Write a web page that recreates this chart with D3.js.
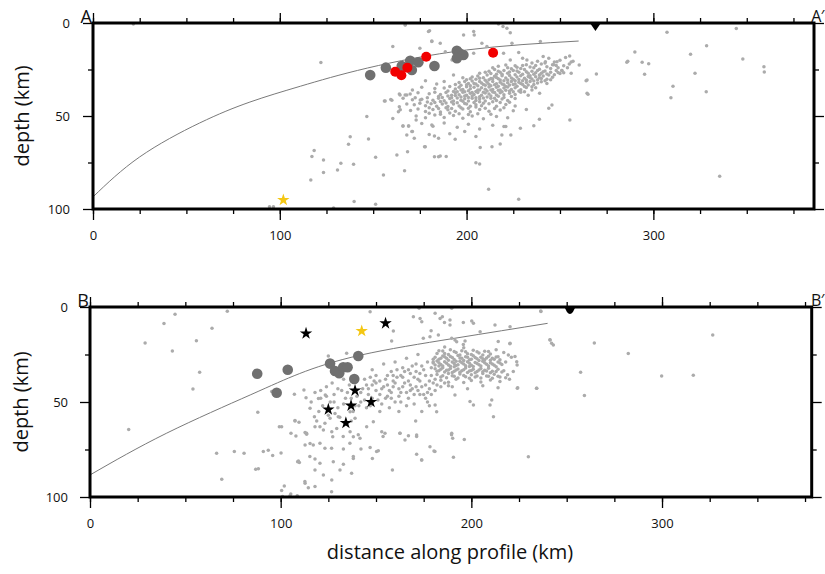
<!DOCTYPE html>
<html>
<head>
<meta charset="utf-8">
<script src="https://cdn.jsdelivr.net/npm/d3@7"></script>
<style>
body { margin: 0; background: #fff; }
text { font-family: "Open Sans", sans-serif; fill: #111; }
</style>
</head>
<body>
<div id="chart"></div>
<script>
// ticks
var xTicks = [0, 100, 200, 300];
var yTicks = [0, 50, 100];

// ---------- profile A-A' ----------
var slabA = [[0,93.5],[25,72],[57,53.8],[84,42.5],[111,34],[147,24.2],[200,14.5],[260,9.7]];
var stationA = [269];
var starA = [[101.9,95.2]];
var bigA = [[148.4,28],[156.8,24],[165.3,23.1],[169.8,20.3],[170.7,25.3],[174.2,21.1],[182.8,23.1],
  [194.8,14.9],[196.2,16.3],[198.3,17.2],[194.8,18.9]];
var redA = [[161.8,26.2],[165.1,28.1],[168.3,24],[178.4,18.1],[214.2,16]];
var quakesA = [
  [230,19],[238,20.5],[244,19],[250,20],[253,18.5],[247,21],[241,18],[235,21.5],
  [226,23],[232,22.5],[236,24],[240,22],[243,23.5],[246,22.5],[249,24],[252,23],[229,24.5],[222,24],[255,22],
  [212,26],[215,25],[218,26.5],[220,25.5],[222,27],[225,25.5],[228,26.5],[231,25],[233,27],[235,26],[238,25.5],[240,27],[242,25.8],[245,26.5],[248,25.5],[250,27.2],[216,27.5],[226,27.8],[236,27.6],[244,28],
  [203,29],[206,28.5],[209,29.5],[211,28],[213,29.8],[215,28.6],[217,30],[219,28.4],[221,29.6],[223,28.2],[225,30.2],[227,29],[229,28.3],[231,29.7],[233,28.8],[235,30.1],[237,28.9],[239,29.5],[241,28.5],[243,30.3],[246,29.2],[210,30.8],[220,31],[230,31],[198,29.5],[193,28],
  [196,32],[199,31.5],[201,32.5],[203,31.2],[205,32.8],[207,31.5],[209,33],[211,31.8],[212,32.9],[214,31.4],[216,32.6],[218,31.9],[220,33.2],[222,32.1],[224,31.4],[226,32.8],[228,31.8],[230,33],[232,32],[234,31.5],[236,33.1],[238,32.3],[240,31.6],[243,32.5],[188,31.5],[184,32.8],[178,31],
  [188,35],[191,34.2],[194,35.5],[196,34.6],[198,35.8],[200,34.3],[202,35.4],[204,34.5],[206,36],[208,34.8],[210,35.6],[212,34.4],[214,35.8],[216,34.6],[218,36],[220,35],[222,34.4],[224,35.7],[226,34.8],[229,35.9],[232,34.7],[235,36],[183,35.2],[176,34.5],[171,36],
  [180,38],[183,37.2],[186,38.5],[189,37.4],[192,38.8],[194,37.5],[196,38.6],[198,37.2],[200,38.9],[202,37.8],[204,38.4],[206,37.3],[208,38.9],[210,37.6],[212,38.2],[214,37.1],[216,38.7],[218,37.5],[220,38.6],[223,37.8],[226,38.5],[229,37.2],[233,38.8],[174,37.5],[168,38.7],[164,38.2],
  [176,41],[179,40.2],[182,41.5],[185,40.4],[188,41.8],[191,40.6],[193,41.9],[195,40.3],[197,41.5],[199,40.7],[201,42],[203,40.4],[205,41.6],[207,40.8],[210,41.9],[213,40.5],[216,41.7],[219,40.9],[222,41.6],[226,40.6],[171,41.2],[166,40.5],[160,41.5],[156,42],
  [172,44],[175,43.2],[178,44.5],[181,43.4],[184,44.8],[187,43.6],[190,44.9],[193,43.5],[196,44.6],[199,43.3],[202,44.7],[205,43.9],[208,44.5],[212,43.4],[216,44.8],[221,43.8],[226,44.6],[168,43.5],[164,45],
  [170,47],[174,46.3],[178,47.6],[182,46.5],[186,47.8],[190,46.6],[194,47.4],[198,46.2],[202,47.7],[207,46.5],[212,47.5],[218,46.8],[225,47.2],[232,46.5],[244,45.8],
  [173,50],[178,51],[183,49.5],[188,50.8],[193,49.7],[198,51.2],[203,50],[209,51.5],[216,50.3],[222,51],[239,51.8],[160.5,51.3],[164.5,46.7],[146.6,50.3],
  [176,54],[182,55.5],[188,53.8],[195,56],[201,54.5],[207,57],[214,55],[221,55.7],[236,55.3],[166,55.4],[169,55.4],[173,52.2],
  [180,60],[185,62],[191,59.5],[199,58.4],[205,61],[218.9,60.2],[223.7,60.2],[168,60.2],[171,58.4],[172,62],[182.8,60.8],
  // second pass over the dense core
  [214,24],[217,23.2],[221,22.6],[224,24.6],[227,23.8],[230,22.8],[234,23.6],[237,22.8],[239,24.8],[242,21.5],[245,24.5],[248,22.8],[251,25.5],[254,24],
  [207,27],[210,26.5],[213,27.2],[217,26],[219,27.5],[223,26.3],[227,25.8],[230,27.5],[232,26.2],[234,28.4],[237,26.8],[239,28],[241,26.2],[243,27.4],[247,27.8],[249,26.6],[252,26.8],
  [200,30.5],[202,30],[205,30.3],[207,29.7],[212,30.5],[214,30],[216,29.3],[218,30.6],[222,30.6],[224,29.6],[226,31],[228,30.4],[232,30.6],[234,29.5],[236,31.2],[238,30.5],[240,29.9],[242,31],[245,30.5],
  [194,33],[197,33.5],[200,33.2],[202,33.8],[204,32.5],[206,33.8],[208,32.3],[210,33.5],[213,33.8],[215,33.2],[217,34],[219,32.8],[221,34.2],[223,33.4],[225,33.1],[227,34],[229,32.5],[231,34.2],[233,33.4],[235,34.3],[237,34.8],
  [190,36.5],[193,36.8],[195,37],[197,36],[199,36.9],[201,36.4],[203,37.3],[205,36.8],[207,36],[209,37.2],[211,36.6],[213,36],[215,37.3],[217,36.2],[219,37],[221,36.2],[223,36.5],[225,37],[228,36.5],[231,37],
  [185,39.5],[187,40],[190,39.3],[192,40.2],[194,39],[197,39.8],[199,39.3],[201,40],[203,39.2],[205,40.2],[207,39.6],[209,40.3],[211,39.8],[213,39.3],[215,40.4],[217,39.4],[220,40],[224,39.5],
  [179,42.5],[183,42.8],[186,42.2],[189,43],[192,42.5],[195,42.9],[198,42.1],[200,43.5],[204,42.7],[207,42.3],[209,43.2],[214,42.4],[218,42.8],[223,42.6],
  [180,45.5],[185,46],[189,45.6],[192,46],[197,45.5],[201,45.8],[205,45.2],[210,45.9],[215,46],[220,45.6],
  [180,48.5],[186,49],[191,48.4],[196,48.8],[201,49.2],[206,48.8],[213,49],
  // scattered events
  [21.6,0.5],[167.2,1],[179.6,4.6],[198.4,6.4],[203.8,4.6],[204.1,6.4],[217.1,0.5],[219.5,1.9],[221.6,2.8],[223.4,5.2],
  [208.2,10.9],[185.9,10.9],[181.4,10],[160.5,12.7],[188.6,15.4],[192.2,19.9],[203.8,16.3],[210.9,12.7],[219.8,16.3],
  [224.3,10.9],[227.9,15.9],[122,21.3],[239.5,10],[223.4,19.9],[232.3,19.9],[242.2,20.8],[248.4,20.8],[246.6,22.5],
  [255.2,17.7],[256,21],[257,20.6],[260.3,22.6],[264.5,30.6],[269.5,27.4],[255.3,52.2],[265,38.3],[251,25.6],[256,27],
  [264,31],[167.1,1.1],[180.2,4.1],[181.4,9.7],[175,13.6],[178.7,17.8],
  [307.3,5],[344.4,2.9],[328.5,12.2],[319.9,16.8],[290.1,15.6],[285.8,21.1],[286.3,20.6],[294,21.1],[297.5,21.9],
  [295.3,27.6],[322.3,27],[347.9,19.4],[359.2,23.5],[359.4,26.3],[310.5,34],[309.4,40.2],[328.3,36.9],[335.5,82.4],
  [137.7,61.1],[136.8,65.2],[132.7,75.4],[139.5,76],[117.2,71.8],[118.4,68.6],[123.4,73.6],[123.4,80.4],[116.6,84.4],
  [130.9,79],[139.8,96],[151.3,97.5],[128.8,99.5],[151.3,72.2],[147.5,62.3],[155.5,81.7],[162.7,71],[166.8,79.4],
  [168.4,69.2],[177.9,66.5],[185.9,71.5],[189.1,71.8],[193.9,62.5],[205,75.1],[207,75.8],[207.3,67],[213.6,66.5],
  [218,65],[211.8,89.4],[227.9,94.8],[228.8,56.6],[220,55.7],[245.7,44.1],[239.1,37.8],[264.5,37.8],[94.5,98.8],[96.6,98.8],
  [156.4,42],[159.4,41.1],[164.4,38.7],[167.1,38.7],[169.8,38.2],[172.5,40.2],[175.2,41.4],[163.5,47.7],[165.9,55.4],
  [168.9,55.4],[170.7,58.4],[177.5,66.5],[181.4,54.9],[182.8,71.9],[185,71.9]
];

// ---------- profile B-B' ----------
var slabB = [[0,88.4],[40,66.5],[84,46.3],[110,35],[142,25.3],[191,16.5],[240,8.6]];
var stationB = [251.7];
var starB = [[142.5,12.6]];
var blackStarsB = [[113.3,13.9],[155,8.6],[139,44],[147.4,50],[136.9,51.9],[125,53.9],[134.2,61]];
var bigB = [[87.7,35.1],[103.7,33],[97.9,45.1],[125.9,29.8],[128.5,33.7],[130.7,34.9],[132.8,31.7],[135.1,31.7],
  [138.6,37.9],[140.7,25.8]];
var quakesB = [
  [118,45],[121,48],[124,42],[126,50],[128,46],[130,53],[132,44],[134,48],[136,41],[138,55],[140,47],[142,50],[120,55],
  [125,57],[131,58],[137,60],[143,43],[145,53],[122,52],[127,40],[133,38],[139,52],[116,50],
  [144,38],[146,46],[148,41],[150,36],[151,49],[153,43],[155,38],[156,47],[158,34],[159,42],[160,50],[161,37],[163,45],
  [164,32],[165,40],[167,48],[168,35],[169,43],[171,30],[172,38],[173,46],[175,33],[176,41],[177,50],[179,36],[180,29],
  [181,44],[147,52],[152,55],[157,53],[162,55],[166,52],[170,51],[174,55],[178,52],[148,33],[154,30],[160,29],[166,27],
  [172,25],[150,44],[155,48],[159,39],[163,36],[167,39],[170,46],[174,42],[178,39],[145,41],[149,39],[157,44],[162,47],
  [168,44],[173,35],[177,45],[180,40],[152,39],[158,48],[164,42],[171,34],
  [142,45],[146,43],[148,48],[150,40],[152,46],[154,42],[156,36],[158,45],[160,40],[161,33],[162,43],[164,37],[166,45],
  [167,33],[168,41],[170,37],[171,42],[173,39],[174,31],[175,46],[176,36],[177,29],[178,43],[179,32],[181,38],[182,41],
  [184,42],[186,40],[188,41.5],[141,52],[144,49],[147,37],[153,51],[156,41],[159,36],[163,50],[165,34],[169,31],[172,44],
  [176,48],[179,46],[135,45],[130,43],[128,50],[124,47],[121,44],[133,51],[137,48],
  [183,23],[186,24.5],[189,22.5],[192,24],[195,23],[198,24.6],[201,22.8],[204,24.2],[207,23.3],[210,24.8],[186,21],[196,21.5],
  [181,26.5],[183,27.5],[185,25.8],[187,27],[189,26],[191,27.6],[193,25.5],[195,27],[197,26.2],[199,27.8],[201,25.7],
  [203,27.2],[205,26.4],[207,27.7],[209,25.9],[211,27],[213,26.3],[215,27.8],
  [180,29.5],[182,28.4],[184,30.2],[186,28.8],[188,30.5],[190,29],[192,30.8],[194,28.5],[196,30],[198,28.8],[200,30.6],
  [202,29.2],[204,30.4],[206,28.6],[208,30.1],[210,29.3],[212,30.7],[214,28.9],[216,30.2],[183,31],[191,31.5],[199,31.3],
  [181,32.5],[183,33.6],[185,32],[187,33.3],[189,32.4],[191,33.8],[193,32.6],[195,33.5],[197,32.1],[199,33.7],[201,32.7],
  [203,33.9],[205,32.4],[207,33.3],[209,32.2],[211,33.8],[214,32.8],[217,33.5],
  [182,35.5],[185,36.2],[188,35],[191,36.5],[194,35.2],[197,36.7],[200,35.6],[203,36.3],[206,35],[209,36.5],[212,35.4],
  [215,36.8],[219,35.7],
  [184,38.5],[188,39.6],[192,38],[196,39.8],[200,38.7],[205,39.5],[210,38.4],[215,39.2],[220,38],
  [190,42],[198,43],[206,41.5],[214,42.5],[222,34],[224,30.5],[218,29],[221,26.5],[217,24],[213,22.5],
  // second pass over the dense core
  [182,24.5],[185,23.2],[188,25],[191,23.4],[194,25.2],[197,23.5],[200,25],[203,23.6],[206,25.2],[209,23.4],
  [180,27.5],[184,27],[186,26.2],[188,28],[190,26.6],[192,28.5],[194,26.8],[196,28.2],[198,26.4],[200,27.5],[202,26.6],
  [204,28.2],[206,27.2],[208,26.8],[210,28],[212,27.5],[214,26.2],
  [181,30.5],[183,29.3],[185,31],[187,29.6],[189,31.2],[191,29.8],[193,30.4],[195,29.3],[197,30.9],[199,29.6],[201,31.3],
  [203,29.8],[205,31],[207,29.4],[209,31],[211,30],[213,31.5],[215,29.5],
  [182,33.8],[184,32.8],[186,34.2],[188,33.1],[190,34.5],[192,33.2],[194,34.4],[196,33],[198,34.5],[200,33.4],[202,34.6],
  [204,33.2],[206,34.1],[208,33.7],[210,34.6],[213,34],[216,34.2],
  [184,36.8],[187,37.3],[190,36.2],[193,37.4],[196,36.1],[199,37.5],[202,36.9],[205,37.4],[208,36.3],[211,37.5],[214,36.4],[218,37.2],
  // scattered events
  [44.6,3.8],[72,2.3],[38.8,8.7],[64,11.2],[28.9,18.9],[55.8,17.7],[43.2,23.1],[57.5,34.4],[54,43.1],[20.3,64.5],
  [88,55.4],[99.3,63],[100.5,63],[95.3,44.5],[107.2,45.9],[66.4,77],[75.7,76.1],[80.8,77],[90.9,76.1],[93.5,75.4],
  [95.8,78.2],[100.2,76.8],[86.9,85.4],[88.3,85.1],[69.1,90.7],[100.5,96.6],[101.9,94.2],[105.3,98.4],[107.5,59.8],
  [105.4,66.5],[108.9,81.4],[112.2,43.7],[113.3,47.7],[107.5,60],[109.6,60.7],[108,67.9],[112.8,66.1],[113.6,67],
  [104.9,99.3],[108.7,99.3],[109.3,81],[109.8,81.8],[118,80],[115.4,71.8],[117.1,72.6],[112.8,72.6],[120.6,63],
  [122.4,64.7],[117.7,57.7],[118.9,60],[115.4,53.3],[119.8,48.1],[123.4,46.3],[128.5,56],[130.2,57.7],[125.9,58.6],
  [123.2,61.2],[129.4,63.9],[126.8,65.6],[127.3,68.3],[132.9,74.7],[123.2,74.4],[131.1,85.8],[126.8,91.1],[122.4,88.4],
  [137.2,87.5],[138.1,79.7],[132.9,82.8],[136.4,65.6],[138.1,68.3],[139,58.6],[136.4,55.1],[125,25.8],[134.6,24.4],
  [101,99.8],[112.8,92.8],[114.5,95.1],[126.7,97.2],[112.7,91.9],[118,85.8],
  [113.6,66.5],[118,63],[120.6,71.7],[126.7,74.4],[115.3,78.7],[120.6,82.3],[127.6,81.4],[132.8,68.2],[136.3,71.7],
  [140.7,67.3],[145.1,63],[138.1,78.7],[150.3,76.1],[154.7,66.5],[162.5,66.5],[171.3,68.2],[180.9,76.1],[173.9,80.5],
  [189.6,67.3],[118,94.5],
  [146.9,2.5],[172.6,0.7],[189.7,0.7],[181,3.3],[183.6,6],[184.8,5.1],[185.9,8.1],[169.6,5.1],[173.1,6],[174,7.7],
  [195.8,8.1],[200.2,7.4],[201.1,8.6],[188.8,6.8],[188.8,9.5],[178.9,12.5],[182.7,14.7],[178.3,15.6],[159.1,12.6],
  [174.8,16.5],[189.7,16.5],[191.4,17.4],[192.3,18.3],[196.7,17.9],[195.8,19.7],[204.6,13],[212.4,9.5],[220.3,10.4],
  [236.4,2.1],[241.3,17.4],[242.1,19.1],[234.3,42.8],[224.3,42.5],[229.9,78.8],[158.2,17.9],[220.3,19.1],[222.9,26.1],
  [223.8,28.8],[219.4,25.3],[210.7,49],[209.8,51.6],[211.6,57.7],[189.7,66.5],[190.2,69.1],[196.3,69.7],[190.6,79.1],
  [178.3,73.5],[180.4,75.8],[171.3,77.5],[174,80.5],[158.6,85.8],[148.1,79.7],[151.2,75.6],[146.9,73.9],[162.6,66.5],
  [167,67.7],[171.3,67.4],[165.2,70],[153,65.6],[153.7,68.2],[142.1,74.7],[141.6,69.1],[148.6,60.4],[170.8,60],
  [181,51.6],[181.8,55.1],[191.4,46.3],[199.3,49.8],[201.1,51.6],
  [264.5,18.9],[282.3,24.5],[257.3,34.4],[259.3,46.6],[299.8,36.3],[316.4,35.9],[326.6,14.7],[241.2,17.3],[243,20],
  [236.5,2.4],[224.1,42.8],[234.2,42.8],[220.2,19.4],[214.1,18.2]
];

var svg = d3.select("#chart").append("svg")
    .attr("width", 825)
    .attr("height", 574);

var panels = [
  {left: 93, right: 814, top: 23, bottom: 209, xMax: 386, labelL: "A", labelR: "A\u2032",
   slab: slabA, quakes: quakesA, big: bigA, red: redA, yellow: starA, black: [], station: stationA, yLab: 70},
  {left: 90, right: 811.7, top: 307, bottom: 497, xMax: 378.5, labelL: "B", labelR: "B\u2032",
   slab: slabB, quakes: quakesB, big: bigB, red: [], yellow: starB, black: blackStarsB, station: stationB, yLab: 68}
];

panels.forEach(drawPanel);

function drawPanel(p, i) {
    var x = d3.scaleLinear().domain([0, p.xMax]).range([p.left, p.right]);
    var y = d3.scaleLinear().domain([0, 100]).range([p.top, p.bottom]);
    var g = svg.append("g");

    // slab top line
    g.append("path")
        .datum(p.slab)
        .attr("d", d3.line().x(d => x(d[0])).y(d => y(d[1])).curve(d3.curveNatural))
        .attr("fill", "none")
        .attr("stroke", "#7a7a7a")
        .attr("stroke-width", 1);

    // seismicity
    g.selectAll(".q").data(p.quakes).join("circle")
        .attr("cx", d => x(d[0]))
        .attr("cy", d => y(d[1]))
        .attr("r", 1.75)
        .attr("fill", "#ababab");

    g.selectAll(".big").data(p.big).join("circle")
        .attr("cx", d => x(d[0]))
        .attr("cy", d => y(d[1]))
        .attr("r", 5.3)
        .attr("fill", "#707070");

    g.selectAll(".red").data(p.red).join("circle")
        .attr("cx", d => x(d[0]))
        .attr("cy", d => y(d[1]))
        .attr("r", 5)
        .attr("fill", "#f20000");

    var star = d3.symbol().type(d3.symbolStar).size(48);
    g.selectAll(".bs").data(p.black).join("path")
        .attr("d", star)
        .attr("transform", d => "translate(" + x(d[0]) + "," + y(d[1]) + ")")
        .attr("fill", "#000");
    g.selectAll(".ys").data(p.yellow).join("path")
        .attr("d", star)
        .attr("transform", d => "translate(" + x(d[0]) + "," + y(d[1]) + ")")
        .attr("fill", "#f4c713");

    // minor / major ticks on all four sides
    var minor = d3.range(0, p.xMax, 25);
    var addAxis = function(axis, tx, ty) {
        var a = g.append("g").attr("transform", "translate(" + tx + "," + ty + ")").call(axis);
        a.select(".domain").remove();
        a.selectAll("line").attr("stroke", "#000").attr("stroke-width", 1.3);
        a.selectAll("text").style("font-family", "Open Sans, sans-serif").attr("font-size", 13).attr("fill", "#111");
        return a;
    };
    addAxis(d3.axisTop(x).tickValues(minor).tickSize(5).tickFormat(""), 0, p.top);
    addAxis(d3.axisTop(x).tickValues(xTicks).tickSize(10).tickFormat(""), 0, p.top);
    addAxis(d3.axisBottom(x).tickValues(minor).tickSize(5).tickFormat(""), 0, p.bottom);
    addAxis(d3.axisBottom(x).tickValues(xTicks).tickSize(11).tickPadding(11), 0, p.bottom);
    addAxis(d3.axisLeft(y).tickValues([25, 75]).tickSize(5).tickFormat(""), p.left, 0);
    addAxis(d3.axisLeft(y).tickValues(yTicks).tickSize(10).tickPadding(p.left - 10 - p.yLab), p.left, 0);
    addAxis(d3.axisRight(y).tickValues([25, 75]).tickSize(5).tickFormat(""), p.right, 0);
    addAxis(d3.axisRight(y).tickValues(yTicks).tickSize(10).tickFormat(""), p.right, 0);

    // frame
    g.append("rect")
        .attr("x", p.left).attr("y", p.top)
        .attr("width", p.right - p.left).attr("height", p.bottom - p.top)
        .attr("fill", "none").attr("stroke", "#000").attr("stroke-width", 3);

    // station
    g.selectAll(".st").data(p.station).join("path")
        .attr("d", d => {
            var cx = x(d), t = p.top;
            if (i === 0) return "M" + (cx - 5.5) + "," + t + "L" + (cx + 5.5) + "," + t + "L" + cx + "," + (t + 8) + "Z";
            return "M" + (cx - 5.5) + "," + t + "L" + (cx + 5.5) + "," + t + "L" + (cx + 3) + "," + (t + 5) +
                "Q" + cx + "," + (t + 9) + " " + (cx - 3) + "," + (t + 5) + "Z";
        })
        .attr("fill", "#000");

    // profile end labels
    g.append("text").attr("x", p.left - 1).attr("y", p.top).attr("text-anchor", "end")
        .attr("font-size", 18).text(p.labelL);
    g.append("text").attr("x", 824).attr("y", p.top - 1)
        .attr("text-anchor", "end")
        .attr("font-size", 16)
        .attr("letter-spacing", -0.5)
        .text(p.labelR);

    // y title
    var ymid = (p.top + p.bottom) / 2;
    g.append("text")
        .attr("transform", "translate(" + (i === 0 ? 29 : 27.5) + "," + ymid + ") rotate(-90)")
        .attr("text-anchor", "middle")
        .attr("font-size", 20)
        .text("depth (km)");
}

svg.append("text")
    .attr("x", 450).attr("y", 559)
    .attr("text-anchor", "middle")
    .attr("font-size", 20)
    .text("distance along profile (km)");
</script>
</body>
</html>
